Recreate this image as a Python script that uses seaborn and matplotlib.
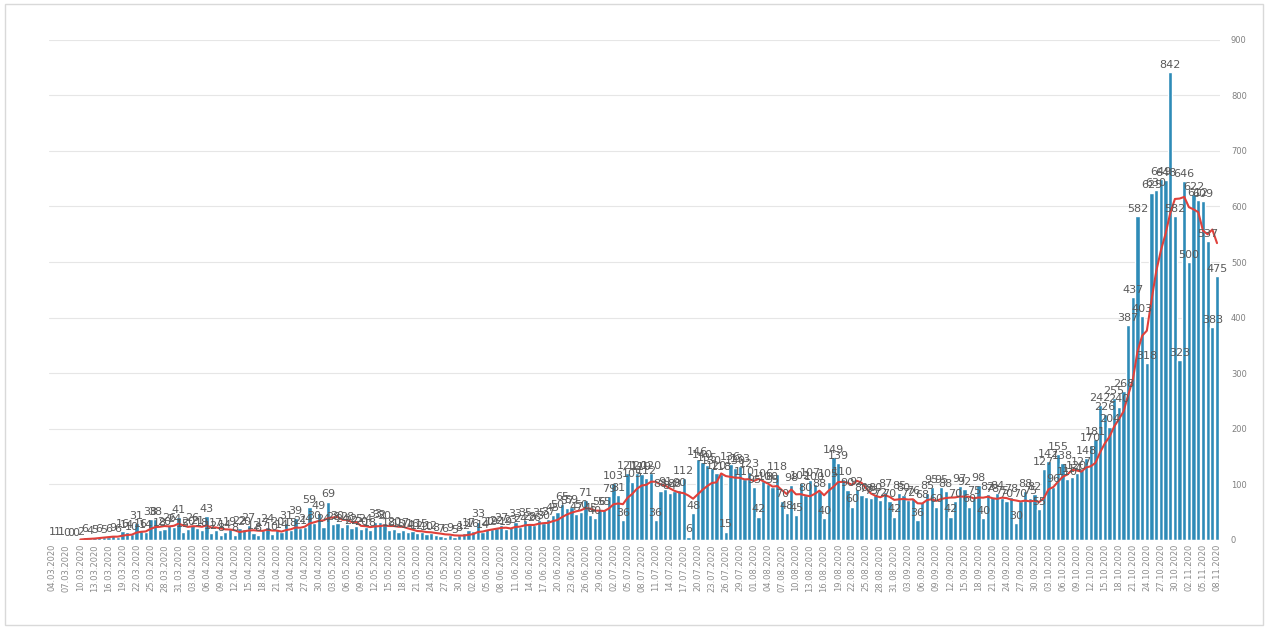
import pandas as pd
import numpy as np
import matplotlib.pyplot as plt
import matplotlib.patches as mpatches
import seaborn as sns

start_date = '2020-03-04'

cases = [
    # 04.03 - 31.03
    1, 1, 1, 0, 0, 0, 2, 6, 4, 5, 6, 5, 6, 9, 6, 16, 14, 10, 31, 16,
    14, 38, 38, 18, 20, 26, 24, 41,
    # April
    15, 20, 26, 21, 18, 43, 12, 17, 8, 14, 19, 8, 22, 20, 27, 12,
    8, 17, 24, 10, 20, 14, 31, 18, 39, 21, 24, 59, 30, 49,
    # May
    24, 69, 28, 30, 24, 28, 22, 25, 20, 24, 18, 33, 32, 30, 18, 20,
    15, 17, 14, 16, 12, 15, 10, 12, 8, 7, 6, 9, 5, 8, 12,
    # June
    17, 16, 33, 14, 20, 19, 22, 27, 19, 23, 33, 24, 35, 28, 26, 35,
    30, 37, 45, 50, 65, 57, 59, 47, 50, 71, 45, 40, 56, 55,
    # July
    79, 103, 81, 36, 121, 105, 120, 119, 112, 120, 36, 88, 91, 84, 88, 90,
    112, 6, 48, 146, 140, 135, 130, 120, 118, 15, 136, 130, 133, 110, 123,
    # August
    95, 42, 106, 100, 95, 118, 70, 48, 98, 45, 102, 80, 107, 100, 88, 40,
    105, 149, 139, 110, 90, 60, 92, 80, 78, 75, 80, 72, 87, 70, 42,
    # September
    85, 80, 72, 76, 36, 68, 85, 95, 60, 95, 88, 42, 70, 97, 92, 60,
    75, 98, 40, 82, 78, 84, 75, 70, 78, 30, 70, 88, 75, 82,
    # October
    55, 127, 142, 96, 155, 138, 110, 114, 120, 127, 148, 170, 181, 242, 226, 204,
    255, 240, 268, 387, 437, 582, 403, 318, 625, 630, 649, 648, 842, 582, 323,
    # November
    646, 500, 622, 612, 609, 537, 383, 475,
]

dates = pd.date_range(start_date, periods=len(cases), freq='D')
date_labels = dates.strftime('%d.%m.%Y')

df = pd.DataFrame({'pos': np.arange(len(cases)), 'date': date_labels, 'cases': cases})
df['avg7'] = df['cases'].rolling(7).mean()

bar_color = '#2e8bb7'
line_color = '#e0403a'

sns.set_style('white')
fig, ax = plt.subplots(figsize=(12.68, 6.3), dpi=100)
fig.subplots_adjust(left=0.039, right=0.962, bottom=0.143, top=0.937)

sns.barplot(data=df, x='pos', y='cases', color=bar_color, saturation=1,
            width=0.92, ax=ax)
sns.lineplot(data=df, x='pos', y='avg7', color=line_color, linewidth=1.5, ax=ax)

ax.bar_label(ax.containers[0], labels=[str(v) for v in cases], padding=1.5,
             fontsize=8, color='#595959')

ax.set_xlim(-0.6, len(cases) - 0.4)
ax.set_ylim(0, 900)
ax.set_yticks(range(0, 901, 100))
ax.yaxis.tick_right()
ax.tick_params(axis='y', labelsize=6, colors='#808080', length=0, pad=8)
ax.grid(axis='y', color='#e6e6e6', linewidth=0.8)
ax.set_axisbelow(True)

tick_pos = df['pos'][::3]
ax.set_xticks(tick_pos)
ax.set_xticklabels(df['date'][::3], rotation=90, fontsize=6, color='#8c8c8c')
ax.tick_params(axis='x', length=0, pad=3)

ax.set_xlabel('')
ax.set_ylabel('')
for s in ax.spines.values():
    s.set_visible(False)
ax.axhline(0, color='#d9d9d9', linewidth=0.8)

fig.patches.append(mpatches.Rectangle((0.004, 0.008), 0.992, 0.985, transform=fig.transFigure,
                                      fill=False, edgecolor='#d9d9d9', linewidth=1))

fig.savefig('out.png', dpi=100)
